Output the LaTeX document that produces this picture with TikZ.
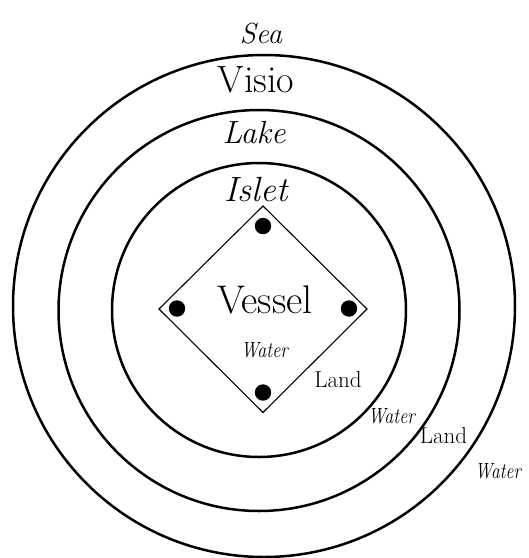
\documentclass[tikz,border=0pt]{standalone}
\usetikzlibrary{calc}
\begin{document}
\begin{tikzpicture}[x=1pt,y=-1pt,
  ring/.style={line width=2.5pt},
  vesselline/.style={line width=1.1pt},
  dotmark/.style={fill=black},
  lbl/.style={inner sep=0pt,anchor=base},
  smallwater/.style={lbl,font=\fontsize{22}{24}\selectfont\itshape},
  landlbl/.style={lbl,font=\fontsize{23}{25}\selectfont},
]
\useasboundingbox (0,0) rectangle (529,558);
% rings
\draw[ring] (264,306) circle (251);
\draw[ring] (259,310.5) circle (200.5);
\draw[ring] (259,310) circle (147);
% vessel diamond
\coordinate (vt) at (263,206);
\coordinate (vr) at (367,309);
\coordinate (vb) at (263,412.5);
\coordinate (vl) at (159,309);
\draw[vesselline] (vt) -- (vr) -- (vb) -- (vl) -- cycle;
\fill[dotmark] (263,226) circle (8.2);
\fill[dotmark] (349,308.5) circle (8.2);
\fill[dotmark] (263,392.5) circle (8.2);
\fill[dotmark] (177,308.5) circle (8.2);
% labels
\node[lbl,font=\fontsize{29}{31}\selectfont\itshape] (sea) at (261,43) {Sea};
\node[lbl,font=\fontsize{38}{40}\selectfont] (visio) at (256,92.5) {Visio};
\node[lbl,font=\fontsize{32}{34}\selectfont\itshape] (lake) at (254,143) {Lake};
\node[lbl,font=\fontsize{35}{37}\selectfont\itshape] (islet) at (256,201) {Islet};
\node[lbl,font=\fontsize{40}{42}\selectfont] (vessel) at (265,313.5) {Vessel};
\node[smallwater] (water1) at (264.5,357.5) {\scalebox{0.82}[1]{Water}};
\node[landlbl] (land1) at (338,387) {Land};
\node[smallwater] (water2) at (391.5,423) {\scalebox{0.82}[1]{Water}};
\node[landlbl] (land2) at (443.5,443) {Land};
\node[smallwater] (water3) at (498,478) {\scalebox{0.8}[1]{Water}};
\end{tikzpicture}
\end{document}
